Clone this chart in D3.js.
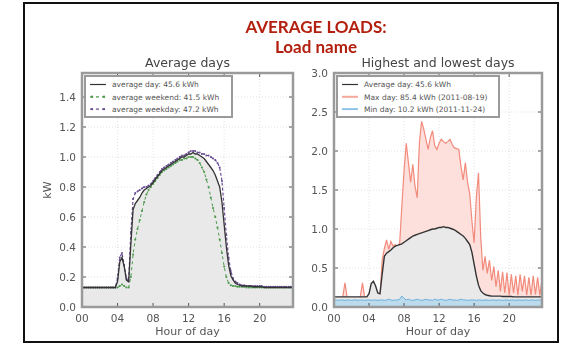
<!DOCTYPE html>
<html>
<head>
<meta charset="utf-8">
<script src="https://cdn.jsdelivr.net/npm/d3@7"></script>
<style>
  body { margin: 0; background: #fff; }
  svg { display: block; filter: blur(0.6px); }
  text { font-family: "DejaVu Sans", sans-serif; }
</style>
</head>
<body>
<div id="chart"></div>
<script>
// quarter-hour samples over one day
const hours = d3.range(0, 24, 0.25);

const avgDay = [
  0.13,0.13,0.13,0.13,0.13,0.13,0.13,0.13,0.13,0.13,0.13,0.13,0.13,0.13,0.13,0.13,
  0.17,0.30,0.33,0.27,0.18,0.17,0.42,0.65,0.69,0.71,0.73,0.76,0.78,0.79,0.80,0.81,
  0.83,0.85,0.87,0.89,0.91,0.92,0.93,0.94,0.95,0.96,0.97,0.98,0.99,1.00,1.00,1.01,
  1.02,1.02,1.03,1.02,1.02,1.01,1.00,0.99,0.97,0.95,0.93,0.91,0.88,0.84,0.80,0.70,
  0.55,0.40,0.28,0.21,0.18,0.16,0.15,0.145,0.14,0.14,0.14,0.14,0.14,0.135,0.135,0.135,
  0.135,0.135,0.13,0.13,0.13,0.13,0.13,0.13,0.13,0.13,0.13,0.13,0.13,0.13,0.13,0.13
];
const weekendDay = [
  0.13,0.13,0.13,0.13,0.13,0.13,0.13,0.13,0.13,0.13,0.13,0.13,0.13,0.13,0.13,0.13,
  0.13,0.14,0.15,0.14,0.13,0.13,0.20,0.35,0.45,0.52,0.58,0.64,0.70,0.75,0.78,0.80,
  0.82,0.84,0.86,0.88,0.90,0.91,0.92,0.93,0.94,0.95,0.96,0.97,0.98,0.98,0.99,0.99,
  1.00,1.00,1.00,0.99,0.98,0.96,0.93,0.90,0.85,0.80,0.73,0.66,0.60,0.53,0.45,0.36,
  0.27,0.20,0.16,0.145,0.14,0.14,0.135,0.135,0.135,0.135,0.13,0.13,0.13,0.13,0.13,0.13,
  0.13,0.13,0.13,0.13,0.13,0.13,0.13,0.13,0.13,0.13,0.13,0.13,0.13,0.13,0.13,0.13
];
const weekdayDay = [
  0.13,0.13,0.13,0.13,0.13,0.13,0.13,0.13,0.13,0.13,0.13,0.13,0.13,0.13,0.13,0.13,
  0.19,0.33,0.36,0.28,0.19,0.17,0.50,0.72,0.76,0.77,0.78,0.79,0.80,0.80,0.81,0.82,
  0.84,0.86,0.88,0.90,0.92,0.93,0.94,0.95,0.96,0.97,0.98,0.99,1.00,1.01,1.01,1.02,
  1.03,1.04,1.04,1.04,1.03,1.03,1.02,1.02,1.01,1.01,1.00,0.99,0.98,0.96,0.93,0.84,
  0.66,0.48,0.33,0.24,0.19,0.17,0.16,0.15,0.145,0.145,0.14,0.14,0.14,0.14,0.14,0.14,
  0.14,0.14,0.135,0.135,0.135,0.135,0.135,0.135,0.135,0.135,0.135,0.135,0.135,0.135,0.135,0.135
];
const maxDay = [
  0.12,0.12,0.12,0.12,0.13,0.31,0.12,0.12,0.12,0.12,0.12,0.12,0.13,0.31,0.12,0.12,
  0.12,0.12,0.12,0.12,0.13,0.14,0.60,0.75,0.86,0.74,0.84,0.78,0.80,0.76,0.82,1.30,
  1.75,2.10,1.85,1.60,1.83,1.55,1.40,2.10,2.38,2.28,2.15,2.02,2.17,2.26,2.07,2.02,
  2.10,2.15,2.12,2.10,2.12,2.15,2.08,2.04,2.03,2.02,1.80,1.63,1.85,1.60,1.45,1.10,
  0.82,1.40,1.72,0.90,0.47,0.65,0.43,0.60,0.34,0.52,0.26,0.47,0.20,0.45,0.18,0.44,
  0.15,0.42,0.18,0.40,0.15,0.42,0.20,0.40,0.15,0.38,0.15,0.40,0.16,0.38,0.15,0.35
];
const minDay = [
  0.09,0.09,0.085,0.09,0.09,0.085,0.09,0.09,0.085,0.09,0.09,0.085,0.09,0.09,0.085,0.09,
  0.09,0.085,0.09,0.09,0.085,0.09,0.09,0.085,0.09,0.10,0.09,0.085,0.09,0.09,0.10,0.14,
  0.11,0.09,0.10,0.09,0.085,0.09,0.10,0.09,0.085,0.09,0.10,0.09,0.09,0.085,0.10,0.09,
  0.09,0.10,0.09,0.085,0.09,0.10,0.09,0.09,0.085,0.09,0.10,0.09,0.09,0.085,0.09,0.09,
  0.09,0.085,0.09,0.09,0.085,0.09,0.09,0.085,0.09,0.09,0.085,0.09,0.09,0.085,0.09,0.09,
  0.085,0.09,0.09,0.085,0.09,0.09,0.085,0.09,0.09,0.085,0.09,0.09,0.085,0.09,0.09,0.09
];

const xTicks = [0, 4, 8, 12, 16, 20];
const leftYTicks = [0, 0.2, 0.4, 0.6, 0.8, 1.0, 1.2, 1.4];
const rightYTicks = [0, 0.5, 1.0, 1.5, 2.0, 2.5, 3.0];

const leftLegend = ['average day: 45.6 kWh', 'average weekend: 41.5 kWh', 'average weekday: 47.2 kWh'];
const rightLegend = ['Average day: 45.6 kWh', 'Max day: 85.4 kWh (2011-08-19)', 'Min day: 10.2 kWh (2011-11-24)'];

const W = 570, H = 345;
const svg = d3.select('#chart').append('svg').attr('width', W).attr('height', H);

// outer frame
svg.append('rect').attr('x', 24).attr('y', 3).attr('width', 534).attr('height', 339)
  .attr('fill', 'none').attr('stroke', '#111').attr('stroke-width', 2);

svg.append('text').attr('x', 316).attr('y', 33).attr('text-anchor', 'middle')
  .style('font-family', 'Lato, sans-serif').style('font-weight', 700).style('font-size', '17px')
  .attr('fill', '#b3200f').text('AVERAGE LOADS:');
svg.append('text').attr('x', 316).attr('y', 53).attr('text-anchor', 'middle')
  .style('font-family', 'Lato, sans-serif').style('font-weight', 700).style('font-size', '17px')
  .attr('fill', '#b3200f').text('Load name');

function panel(opts) {
  const x = d3.scaleLinear().domain([0, 23.75]).range([opts.l, opts.r]);
  const y = d3.scaleLinear().domain([0, opts.ymax]).range([307, 73]);
  const g = svg.append('g');

  // grid
  g.selectAll('.gx').data(xTicks).join('line')
    .attr('x1', d => x(d)).attr('x2', d => x(d)).attr('y1', 73).attr('y2', 307)
    .attr('stroke', '#ccc').attr('stroke-width', 0.6).attr('stroke-dasharray', '1,2');
  g.selectAll('.gy').data(opts.yTicks).join('line')
    .attr('x1', opts.l).attr('x2', opts.r).attr('y1', d => y(d)).attr('y2', d => y(d))
    .attr('stroke', '#ccc').attr('stroke-width', 0.6).attr('stroke-dasharray', '1,2');

  opts.draw(g, x, y);

  // inward ticks
  g.selectAll('.tx').data(xTicks).join('line')
    .attr('x1', d => x(d)).attr('x2', d => x(d)).attr('y1', 307).attr('y2', 303)
    .attr('stroke', '#555');
  g.selectAll('.tx2').data(xTicks).join('line')
    .attr('x1', d => x(d)).attr('x2', d => x(d)).attr('y1', 73).attr('y2', 77)
    .attr('stroke', '#555');
  g.selectAll('.ty').data(opts.yTicks).join('line')
    .attr('x1', opts.l).attr('x2', opts.l + 4).attr('y1', d => y(d)).attr('y2', d => y(d))
    .attr('stroke', '#555');
  g.selectAll('.ty2').data(opts.yTicks).join('line')
    .attr('x1', opts.r).attr('x2', opts.r - 4).attr('y1', d => y(d)).attr('y2', d => y(d))
    .attr('stroke', '#555');

  // spines
  g.append('rect').attr('x', opts.l).attr('y', 73).attr('width', opts.r - opts.l).attr('height', 234)
    .attr('fill', 'none').attr('stroke', '#9a9a9a').attr('stroke-width', 2.5);

  // tick labels
  g.selectAll('.lx').data(xTicks).join('text')
    .attr('x', d => x(d)).attr('y', 322).attr('text-anchor', 'middle')
    .attr('fill', '#555').style('font-size', '10.5px').text(d => d3.format('02d')(d));
  g.selectAll('.ly').data(opts.yTicks).join('text')
    .attr('x', opts.l - 6).attr('y', d => y(d) + 4).attr('text-anchor', 'end')
    .attr('fill', '#555').style('font-size', '10.5px').text(d => d3.format('.1f')(d));

  g.append('text').attr('x', (opts.l + opts.r) / 2).attr('y', 335).attr('text-anchor', 'middle')
    .attr('fill', '#555').style('font-size', '11px').text('Hour of day');
  g.append('text').attr('x', (opts.l + opts.r) / 2).attr('y', 67).attr('text-anchor', 'middle')
    .attr('fill', '#444').style('font-size', '12.5px').text(opts.title);

  // legend
  const lg = g.append('g').attr('transform', `translate(${opts.l + 3},76)`);
  lg.append('rect').attr('width', opts.legendW).attr('height', 41)
    .attr('fill', '#fff').attr('stroke', '#9a9a9a').attr('stroke-width', 2);
  opts.legend.forEach((item, i) => {
    const yy = 8.5 + i * 12.3;
    lg.append('line').attr('x1', 5).attr('x2', 21).attr('y1', yy).attr('y2', yy)
      .attr('stroke', item.color).attr('stroke-width', item.w || 1.2)
      .attr('stroke-dasharray', item.dash || null);
    if (item.marker) {
      [7, 19].forEach(mx => lg.append('circle').attr('cx', mx).attr('cy', yy).attr('r', 1.2).attr('fill', item.color));
    }
    lg.append('text').attr('x', opts.textX).attr('y', yy + 2.8)
      .attr('fill', '#555').style('font-size', '7.5px').text(item.label);
  });
}

// left panel: average days
panel({
  l: 82, r: 293, ymax: 1.56, yTicks: leftYTicks, title: 'Average days',
  legendW: 147, textX: 27,
  legend: [
    {label: leftLegend[0], color: '#333'},
    {label: leftLegend[1], color: '#4e9a4e', dash: '3,3', marker: true},
    {label: leftLegend[2], color: '#6b4f94', dash: '3,3', marker: true}
  ],
  draw: (g, x, y) => {
    g.append('path').datum(avgDay)
      .attr('d', d3.area().x((d, i) => x(hours[i])).y0(y(0)).y1(d => y(d)))
      .attr('fill', '#e9e9e9');
    g.append('path').datum(weekendDay)
      .attr('d', d3.line().x((d, i) => x(hours[i])).y(d => y(d)))
      .attr('fill', 'none').attr('stroke', '#4e9a4e').attr('stroke-width', 1).attr('stroke-dasharray', '3,3');
    g.selectAll('.mk1').data(weekendDay).join('circle')
      .attr('cx', (d, i) => x(hours[i])).attr('cy', d => y(d)).attr('r', 1.1).attr('fill', '#4e9a4e');
    g.append('path').datum(weekdayDay)
      .attr('d', d3.line().x((d, i) => x(hours[i])).y(d => y(d)))
      .attr('fill', 'none').attr('stroke', '#6b4f94').attr('stroke-width', 1.2).attr('stroke-dasharray', '3,2');
    g.selectAll('.mk2').data(weekdayDay).join('circle')
      .attr('cx', (d, i) => x(hours[i])).attr('cy', d => y(d)).attr('r', 1).attr('fill', '#6b4f94');
    g.append('path').datum(avgDay)
      .attr('d', d3.line().x((d, i) => x(hours[i])).y(d => y(d)))
      .attr('fill', 'none').attr('stroke', '#333').attr('stroke-width', 1.3);
  }
});

svg.append('text').attr('transform', 'translate(51,190) rotate(-90)').attr('text-anchor', 'middle')
  .attr('fill', '#555').style('font-size', '11px').text('kW');

// right panel: highest and lowest days
panel({
  l: 334, r: 542, ymax: 3.0, yTicks: rightYTicks, title: 'Highest and lowest days',
  legendW: 162, textX: 27,
  legend: [
    {label: rightLegend[0], color: '#333'},
    {label: rightLegend[1], color: '#f7a89c', w: 2},
    {label: rightLegend[2], color: '#8cc4e6', w: 2}
  ],
  draw: (g, x, y) => {
    const area = d3.area().x((d, i) => x(hours[i])).y0(y(0)).y1(d => y(d));
    const line = d3.line().x((d, i) => x(hours[i])).y(d => y(d));
    g.append('path').datum(maxDay).attr('d', area).attr('fill', '#fde0dc');
    g.append('path').datum(maxDay).attr('d', line)
      .attr('fill', 'none').attr('stroke', '#f28b7c').attr('stroke-width', 1.2);
    g.append('path').datum(avgDay).attr('d', area).attr('fill', '#e9e9e9');
    g.append('path').datum(avgDay).attr('d', line)
      .attr('fill', 'none').attr('stroke', '#333').attr('stroke-width', 1.4);
    g.append('path').datum(minDay).attr('d', area).attr('fill', '#bcdcee');
    g.append('path').datum(minDay).attr('d', line)
      .attr('fill', 'none').attr('stroke', '#6aaedc').attr('stroke-width', 1);
  }
});
</script>
</body>
</html>
